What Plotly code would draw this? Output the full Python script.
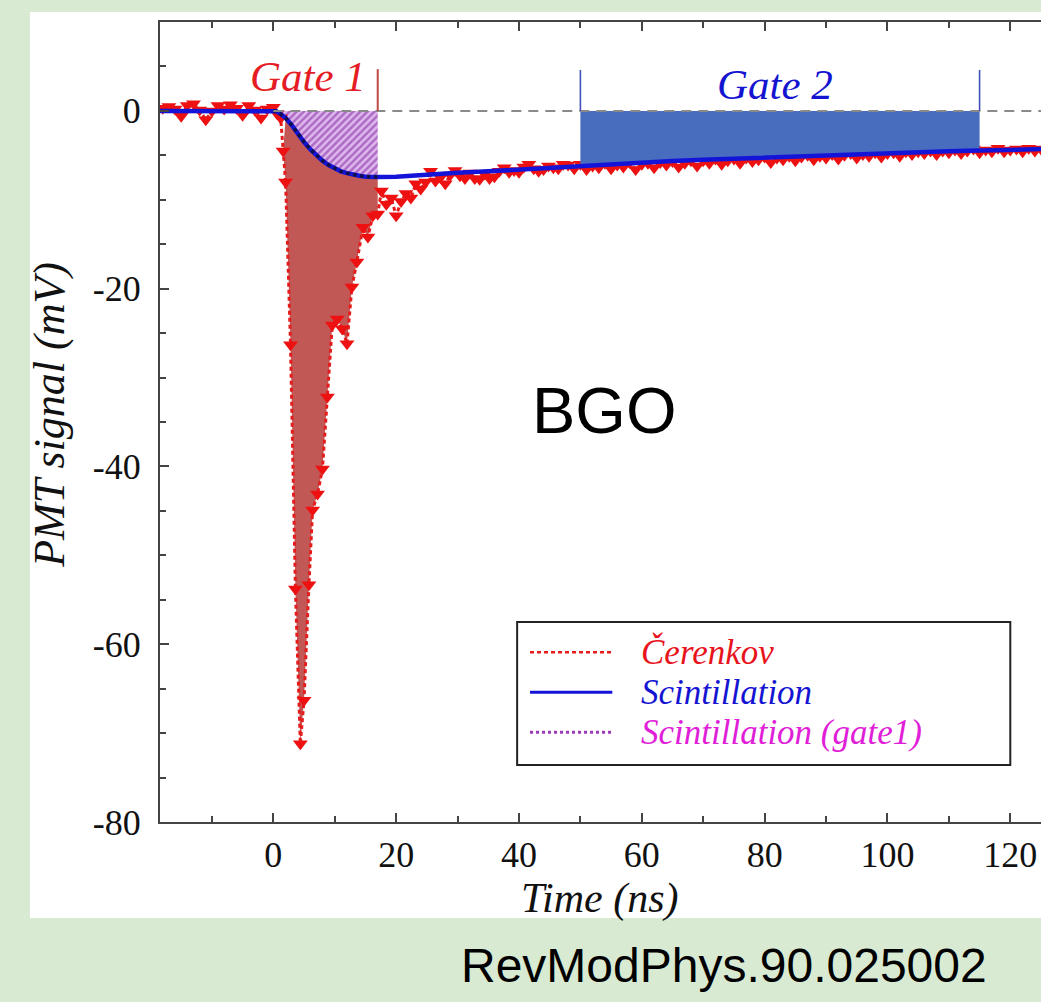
import plotly.graph_objects as go

# ---------------- data ----------------
# Scintillation fit (time in ns, signal in mV)
scint_t = [-18.5, -10, -5, 0, 0.5, 1, 2, 3, 4, 5, 6, 7, 8, 9, 10, 11, 12, 13, 14, 15, 16, 17,
           20, 25, 30, 35, 40, 45, 50, 55, 60, 65, 70, 75, 80, 85, 90, 95, 100, 105, 110, 115, 120, 125]
scint_v = [0, 0, 0, 0, -0.05, -0.25, -0.8, -1.6, -2.6, -3.5, -4.3, -5.0, -5.6, -6.1, -6.5, -6.8, -7.0,
           -7.2, -7.3, -7.4, -7.45, -7.45, -7.4, -7.15, -6.95, -6.8, -6.6, -6.35, -6.15, -5.95, -5.8,
           -5.65, -5.5, -5.37, -5.25, -5.12, -5.0, -4.9, -4.8, -4.68, -4.55, -4.47, -4.4, -4.3]

# Cerenkov measured trace
cer_t = [-18, -17, -16, -15, -14, -13, -12, -11, -10, -9, -8, -7, -6, -5, -4, -3, -2, -1, 0, 0.6, 1.2,
         1.6, 2.0, 2.8, 3.6, 4.4, 5.0, 5.8, 6.4, 7.2, 8.0, 8.8, 9.6, 10.4, 11.2, 12.0, 12.8, 13.6, 14.6,
         15.4, 16.2, 17.0, 17.6, 18.4, 19.2, 20.0, 20.8, 21.6, 22.4, 23.2, 24.0, 24.8, 25.6, 26.4, 27.2,
         28.0, 28.8, 29.6, 30.4, 31.2, 32.0, 32.8, 33.6, 34.4, 35.2, 36.0, 36.8, 37.6, 38.4, 39.2, 40.0,
         40.8, 41.6, 42.4, 43.2, 44.0, 44.8, 45.6, 46.4, 47.2, 48.0,
         49, 50, 51, 52, 53, 54, 55, 56, 57, 58, 59, 60, 61, 62, 63, 64, 65, 66, 67, 68, 69, 70, 71, 72,
         73, 74, 75, 76, 77, 78, 79, 80, 81, 82, 83, 84, 85, 86, 87, 88, 89, 90, 91, 92, 93, 94, 95, 96,
         97, 98, 99, 100, 101, 102, 103, 104, 105, 106, 107, 108, 109, 110, 111, 112, 113, 114, 115, 116,
         117, 118, 119, 120, 121, 122, 123, 124, 125]
cer_v = [0.3, 0.5, 0.2, -0.6, 0.6, 0.8, 0.1, -1.0, 0.0, 0.6, 0.2, 0.7, 0.3, -0.5, 0.6, 0.1, -0.8, 0.2, 0.4, -0.3, -0.8,
         -4.5, -8.0, -26.3, -53.8, -71.2, -66.3, -53.3, -44.9, -43.1, -40.3, -32.2, -24.1, -23.4, -24.5,
         -26.2, -19.8, -17.0, -13.1, -14.2, -11.8, -11.6, -9.0, -10.5, -9.8, -11.8, -10.2, -9.3, -9.8, -8.2,
         -8.8, -8.0, -6.8, -7.9, -7.5, -8.2, -7.2, -6.7, -7.3, -7.6, -7.0, -7.6, -7.7, -7.1, -7.6, -7.4,
         -6.8, -6.4, -6.9, -6.7, -6.9, -6.3, -6.0, -6.5, -6.8, -6.6, -6.2, -6.4, -6.5, -6.0, -6.1,
         -6.5, -6.0, -6.6, -6.2, -6.4, -5.9, -6.5, -6.1, -6.3, -5.8, -6.6, -6.0, -5.9, -6.4, -5.8, -6.1,
         -5.7, -6.3, -5.9, -5.6, -6.2, -5.6, -5.9, -5.4, -6.0, -5.6, -5.4, -5.9, -5.3, -5.7, -5.5, -5.2,
         -5.8, -5.3, -5.5, -5.1, -5.6, -5.2, -5.0, -5.5, -5.1, -5.3, -4.9, -5.4, -5.0, -4.8, -5.3, -4.9,
         -5.1, -4.7, -5.2, -4.8, -4.7, -5.1, -4.6, -4.9, -4.6, -4.8, -4.5, -4.9, -4.5, -4.7, -4.4, -4.8,
         -4.5, -4.3, -4.7, -4.4, -4.6, -4.2, -4.6, -4.4, -4.3, -4.6, -4.2, -4.5, -4.3]

gate1 = [0, 17]
gate2 = [50, 115]
gate_marker_top = 4.6

x_major = [0, 20, 40, 60, 80, 100, 120]
x_minor = [-10, 10, 30, 50, 70, 90, 110]
y_major = [-80, -60, -40, -20, 0]
y_labels = ["-80", "-60", "-40", "-20", "0"]
y_minor = [-75, -70, -65, -55, -50, -45, -35, -30, -25, -15, -10, -5, 5]

legend_labels = ["Čerenkov", "Scintillation", "Scintillation (gate1)"]
legend_colors = ["#e8141c", "#1414d2", "#e020d8"]

# ---------------- figure ----------------
SERIF = "Liberation Serif, Times New Roman, serif"
SANS = "Liberation Sans, Arial, sans-serif"

fig = go.Figure()

# red Cerenkov area inside gate 1 (between Cerenkov trace and scintillation fit)
cer_in = [(t, v) for t, v in zip(cer_t, cer_v) if 1.5 <= t <= gate1[1]]
sc_in = [(t, v) for t, v in zip(scint_t, scint_v) if 1.5 <= t <= gate1[1]]
poly = cer_in + sc_in[::-1]
fig.add_trace(go.Scatter(x=[p[0] for p in poly], y=[p[1] for p in poly], mode="none",
                         fill="toself", fillcolor="rgb(194,88,86)", hoverinfo="skip", showlegend=False))

# hatched scintillation (gate 1)
sc_g1 = [(t, v) for t, v in zip(scint_t, scint_v) if gate1[0] <= t <= gate1[1]]
fig.add_trace(go.Scatter(x=[p[0] for p in sc_g1], y=[p[1] for p in sc_g1], mode="none",
                         fill="tozeroy", fillcolor="rgb(205,160,225)",
                         fillpattern=dict(shape="/", fgcolor="#7e1aa0", bgcolor="rgb(222,185,236)",
                                          size=5, solidity=0.5),
                         hoverinfo="skip", showlegend=False))

# Cerenkov trace
fig.add_trace(go.Scatter(x=cer_t, y=cer_v, mode="lines+markers",
                         line=dict(color="#e41c1c", width=3, dash="4px,3px"),
                         marker=dict(symbol="triangle-down", size=13, color="#ee1111", line=dict(width=0)),
                         hoverinfo="skip", showlegend=False))

# gate 2 fill
sc_g2 = [(t, v) for t, v in zip(scint_t, scint_v) if gate2[0] <= t <= gate2[1]]
fig.add_trace(go.Scatter(x=[p[0] for p in sc_g2], y=[p[1] for p in sc_g2], mode="none",
                         fill="tozeroy", fillcolor="rgb(72,108,190)", hoverinfo="skip", showlegend=False))

# scintillation fit line
fig.add_trace(go.Scatter(x=scint_t, y=scint_v, mode="lines", line=dict(color="#1414d8", width=4.5),
                         hoverinfo="skip", showlegend=False))
fig.add_trace(go.Scatter(x=[p[0] for p in sc_g1], y=[p[1] for p in sc_g1], mode="lines",
                         line=dict(color="#10104a", width=3.5, dash="dot"),
                         hoverinfo="skip", showlegend=False))

# zero reference line
fig.add_shape(type="line", x0=gate1[0], x1=125, y0=0, y1=0, xref="x", yref="y",
              line=dict(color="#8a8a8a", width=2, dash="10px,7px"), layer="above")
# gate markers
fig.add_shape(type="line", x0=gate1[1], x1=gate1[1], y0=0, y1=gate_marker_top + 0.1,
              line=dict(color="#c04848", width=2), layer="above")
for g in gate2:
    fig.add_shape(type="line", x0=g, x1=g, y0=0, y1=gate_marker_top,
                  line=dict(color="#4050b8", width=1.6), layer="above")

# white panel behind plot
fig.add_shape(type="rect", xref="paper", yref="paper", x0=-0.1476, x1=1.01, y0=-0.12, y1=1.0125,
              fillcolor="white", line=dict(width=0), layer="below")

# gate labels
fig.add_annotation(x=5.7, y=3.9, text="<i>Gate 1</i>", showarrow=False, xanchor="center", yanchor="middle",
                   font=dict(family=SERIF, size=43, color="#e51c24"))
fig.add_annotation(x=81.7, y=3.0, text="<i>Gate 2</i>", showarrow=False, xanchor="center", yanchor="middle",
                   font=dict(family=SERIF, size=43, color="#1414d0"))

# BGO label
fig.add_annotation(x=53.9, y=-33.7, text="BGO", showarrow=False, xanchor="center", yanchor="middle",
                   font=dict(family=SANS, size=65, color="black"))

# legend (manual)
fig.add_shape(type="rect", x0=39.7, x1=120.0, y0=-73.6, y1=-57.5,
              fillcolor="white", line=dict(color="#222", width=2), layer="above")
leg_y = [-60.9, -65.4, -69.9]
fig.add_shape(type="line", x0=41.8, x1=55.2, y0=leg_y[0], y1=leg_y[0],
              line=dict(color="#e41c1c", width=2.5, dash="4px,3px"), layer="above")
fig.add_shape(type="line", x0=41.8, x1=55.2, y0=leg_y[1], y1=leg_y[1],
              line=dict(color="#1414d8", width=3), layer="above")
fig.add_shape(type="line", x0=41.8, x1=55.2, y0=leg_y[2], y1=leg_y[2],
              line=dict(color="#9a3cb8", width=3, dash="dot"), layer="above")
for lab, col, yy in zip(legend_labels, legend_colors, leg_y):
    fig.add_annotation(x=59.5, y=yy, text=f"<i>{lab}</i>", showarrow=False, xanchor="left", yanchor="middle",
                       font=dict(family=SERIF, size=35, color=col))

# axis titles
fig.add_annotation(xref="paper", yref="paper", x=0.4994, y=-0.095, text="<i>Time (ns)</i>",
                   xanchor="center", yanchor="middle",
                   showarrow=False, font=dict(family=SERIF, size=42, color="#111"))
fig.add_annotation(xref="paper", yref="paper", x=-0.1249, y=0.509, text="<i>PMT signal (mV)</i>",
                   xanchor="center", yanchor="middle",
                   showarrow=False, textangle=-90, font=dict(family=SERIF, size=44, color="#111"))

# source text
fig.add_annotation(xref="paper", yref="paper", x=0.640, y=-0.179, text="RevModPhys.90.025002",
                   xanchor="center", yanchor="middle",
                   showarrow=False, font=dict(family=SANS, size=48, color="black"))

axis_common = dict(showgrid=False, zeroline=False, showline=True, linecolor="#444", linewidth=2,
                   ticks="inside", tickcolor="#444", tickwidth=1.5, ticklen=9,
                   tickfont=dict(family=SERIF, size=36, color="#111"))

fig.update_xaxes(range=[-18.45, 125.0], tickvals=x_major, mirror="ticks",
                 minor=dict(tickvals=x_minor, ticks="inside", ticklen=6, tickcolor="#444"),
                 ticklabelstandoff=0, **axis_common)
fig.update_yaxes(range=[-80, 10], tickvals=y_major, ticktext=y_labels,
                 minor=dict(tickvals=y_minor, ticks="inside", ticklen=6, tickcolor="#444"),
                 ticklabelstandoff=10, **axis_common)

fig.update_layout(width=1041, height=1002, margin=dict(l=160, r=0, t=22, b=180),
                  paper_bgcolor="#d9ead3", plot_bgcolor="white", showlegend=False)

fig.write_html("out.html")
